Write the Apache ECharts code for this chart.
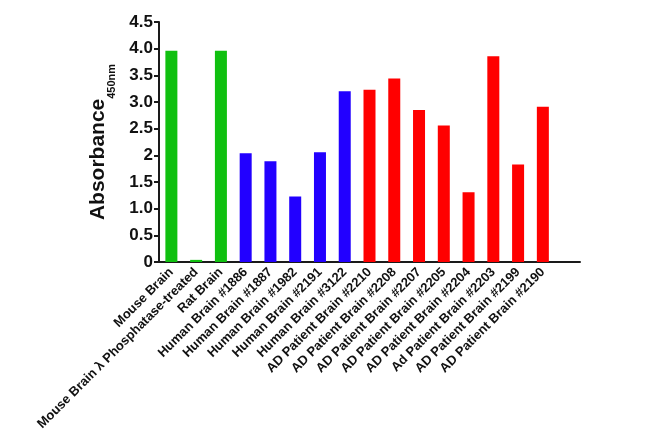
<!DOCTYPE html>
<html>
<head>
<meta charset="utf-8">
<script src="https://cdn.jsdelivr.net/npm/echarts@6/dist/echarts.min.js"></script>
<style>
  html, body { margin: 0; padding: 0; background: #fff; }
  #chart { width: 650px; height: 438px; }
</style>
</head>
<body>
<div id="chart"></div>
<script>
// sample names along the x axis
const categories = [
    'Mouse Brain',
    'Mouse Brain λ Phosphatase-treated',
    'Rat Brain',
    'Human Brain #1886',
    'Human Brain #1887',
    'Human Brain #1982',
    'Human Brain #2191',
    'Human Brain #3122',
    'AD Patient Brain #2210',
    'AD Patient Brain #2208',
    'AD Patient Brain #2207',
    'AD Patient Brain #2205',
    'AD Patient Brain #2204',
    'Ad Patient Brain #2203',
    'AD Patient Brain #2199',
    'AD Patient Brain #2190'
]
// absorbance at 450nm
const absorbance = [3.96, 0.04, 3.96, 2.04, 1.89, 1.23, 2.06, 3.20, 3.23, 3.44, 2.85, 2.56, 1.31, 3.86, 1.83, 2.91]
// group of each sample: 0 = mouse/rat, 1 = human, 2 = AD patient
const groups = [0, 0, 0, 1, 1, 1, 1, 1, 2, 2, 2, 2, 2, 2, 2, 2]
const groupColors = ['#10c010', '#2200ff', '#ff0000']
const yTicks = ['0', '0.5', '1.0', '1.5', '2', '2.5', '3.0', '3.5', '4.0', '4.5']

const font = '"Liberation Sans Narrow", "Liberation Sans", Arial, sans-serif'
const axisColor = '#1a1a1a'

const chart = echarts.init(document.getElementById('chart'))

// one empty slot at the end leaves room on the right like the original
const xData = categories.concat([''])

const option = {
    animation: false,
    grid: { left: 159, right: 70, top: 22, bottom: 176, containLabel: false },
    xAxis: {
        type: 'category',
        data: xData,
        axisLine: { lineStyle: { color: axisColor, width: 2 } },
        axisTick: {
            alignWithLabel: true,
            length: 5,
            lineStyle: { color: axisColor, width: 2 },
            interval: (index) => index < categories.length
        },
        axisLabel: {
            interval: 0,
            rotate: 45,
            margin: 8,
            fontFamily: font,
            fontWeight: 'bold',
            fontSize: 13,
            color: '#111'
        }
    },
    yAxis: {
        type: 'value',
        min: 0,
        max: 4.5,
        interval: 0.5,
        name: '{a|Absorbance}{b|450nm}',
        nameLocation: 'middle',
        nameRotate: 90,
        nameGap: 50,
        nameTextStyle: {
            rich: {
                a: { fontFamily: font, fontWeight: 'bold', fontSize: 21, color: '#111' },
                b: { fontFamily: font, fontWeight: 'bold', fontSize: 11, color: '#111', verticalAlign: 'bottom', padding: [0, 0, -8, 0] }
            }
        },
        splitLine: { show: false },
        axisLine: { show: true, lineStyle: { color: axisColor, width: 2 } },
        axisTick: { show: true, length: 5, lineStyle: { color: axisColor, width: 2 } },
        axisLabel: {
            margin: 6,
            fontFamily: font,
            fontWeight: 'bold',
            fontSize: 17,
            color: '#111',
            formatter: (v) => yTicks[Math.round(v * 2)]
        }
    },
    series: [
        {
            type: 'bar',
            barWidth: 12,
            data: absorbance.map((v, i) => ({
                value: v,
                itemStyle: { color: groupColors[groups[i]] }
            }))
        }
    ]
}

chart.setOption(option)
</script>
</body>
</html>
